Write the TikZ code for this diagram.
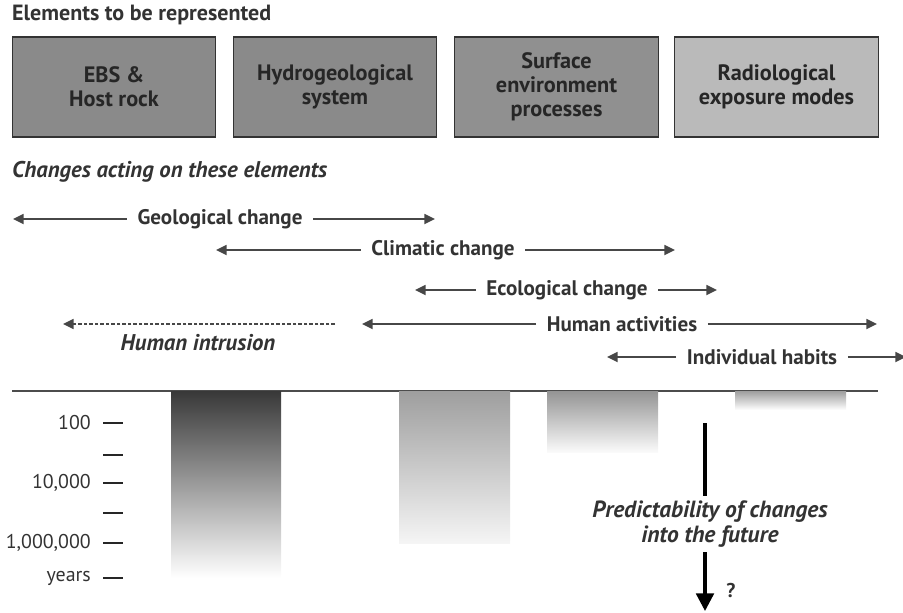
\documentclass[tikz,border=0pt]{standalone}
\usepackage{fontspec}
\setmainfont{PT Sans}
\usetikzlibrary{arrows.meta}

\definecolor{boxgray}{HTML}{8A8A8A}
\definecolor{boxlight}{HTML}{BABABA}
\definecolor{inkgray}{HTML}{333333}

\tikzset{
  elem/.style={draw=black!80, line width=0.9pt, minimum width=6.1cm, minimum height=3cm,
    align=center, text=black!85, font=\fontsize{19}{20.5}\selectfont\bfseries},
  chg/.style={text=inkgray, inner xsep=9pt, inner ysep=2pt, font=\fontsize{18}{20}\selectfont\bfseries},
  span/.style={draw=black!72, line width=1.6pt, -{Triangle[length=9pt,width=8.5pt]}},
  tick/.style={draw=black!85, line width=0.9pt},
  yrs/.style={anchor=east, text=inkgray, inner sep=0pt, font=\fontsize{17}{19}\selectfont},
  bar/.style={shading=axis, shading angle=0},
}

\begin{document}
\begin{tikzpicture}[x=0.03cm, y=-0.03cm]
\useasboundingbox (0,0) rectangle (903,612);

% elements
\node[anchor=west, inner sep=0pt, text=inkgray, font=\fontsize{18.8}{20}\selectfont\bfseries] (title) at (12,15) {Elements to be represented};
\node[elem, fill=boxgray] (ebs) at (114,87) {EBS \&\\Host rock};
\node[elem, fill=boxgray] (hydro) at (335,87) {Hydrogeological\\system};
\node[elem, fill=boxgray!95!white] (surf) at (556.5,87) {Surface\\environment\\processes};
\node[elem, fill=boxlight] (radio) at (776.5,87) {Radiological\\exposure modes};

% changes
\node[anchor=west, inner sep=0pt, text=inkgray, font=\fontsize{19.4}{20}\selectfont\bfseries\itshape] (chtitle) at (12,172) {Changes acting on these elements};

\node[chg] (geo) at (220,219) {Geological change};
\coordinate (geoL) at (13,219);
\coordinate (geoR) at (435,219);
\draw[span] (geo.west) -- (geoL);
\draw[span] (geo.east) -- (geoR);

\node[chg] (clim) at (443,250) {Climatic change};
\coordinate (climL) at (216,250);
\coordinate (climR) at (675,250);
\draw[span] (clim.west) -- (climL);
\draw[span] (clim.east) -- (climR);

\node[chg] (eco) at (567,290) {Ecological change};
\coordinate (ecoL) at (415,290);
\coordinate (ecoR) at (717,290);
\draw[span] (eco.west) -- (ecoL);
\draw[span] (eco.east) -- (ecoR);

\node[chg] (hact) at (622,324) {Human activities};
\coordinate (hactL) at (362,324);
\coordinate (hactR) at (877,324);
\draw[span] (hact.west) -- (hactL);
\draw[span] (hact.east) -- (hactR);

\node[chg] (hab) at (762,357) {Individual habits};
\coordinate (habL) at (607,357);
\coordinate (habR) at (906,357);
\draw[span] (hab.west) -- (habL);
\draw[span] (hab.east) -- (habR);

\coordinate (hintR) at (335,324);
\coordinate (hintL) at (63,324);
\draw[span, line width=1.1pt, dash pattern=on 3pt off 1.7pt] (hintR) -- (hintL);
\node[chg, font=\fontsize{19.4}{20}\selectfont\bfseries\itshape] (hint) at (198,343) {Human intrusion};

% time axis
\coordinate (axL) at (12,391);
\coordinate (axR) at (878,391);
\draw[draw=black!70, line width=1pt] (axL) -- (axR);

\shade[bar, top color=black!78, bottom color=white] (171,391) rectangle (281,578);
\shade[bar, top color=black!38, bottom color=black!4] (399,391) rectangle (510,543);
\shade[bar, top color=black!42, bottom color=black!2] (547,391) rectangle (658,452);
\shade[bar, top color=black!38, bottom color=black!2] (735,391) rectangle (846,409);

\foreach \yy in {423,455,483,513,543,578}
  \draw[tick] (103,\yy) -- (123,\yy);
\node[yrs] (y2) at (91,423) {100};
\node[yrs] (y4) at (91,483) {10,000};
\node[yrs] (y6) at (91,543) {1,000,000};
\node[yrs] (yrs) at (91,578) {years};

% predictability
\node[align=center, text=inkgray, inner sep=4pt, font=\fontsize{20}{21}\selectfont\bfseries\itshape] (pred) at (710,524) {Predictability of changes\\into the future};
\coordinate (predTop) at (705,423);
\coordinate (predEnd) at (705,611);
\draw[line width=2.8pt] (predTop) -- (predTop |- pred.north);
\draw[line width=2.8pt, -{Triangle[length=15pt,width=15pt]}] (predTop |- pred.south) -- (predEnd);
\node[text=inkgray, font=\fontsize{17}{18}\selectfont\bfseries] (qm) at (731,590) {?};

\end{tikzpicture}
\end{document}
